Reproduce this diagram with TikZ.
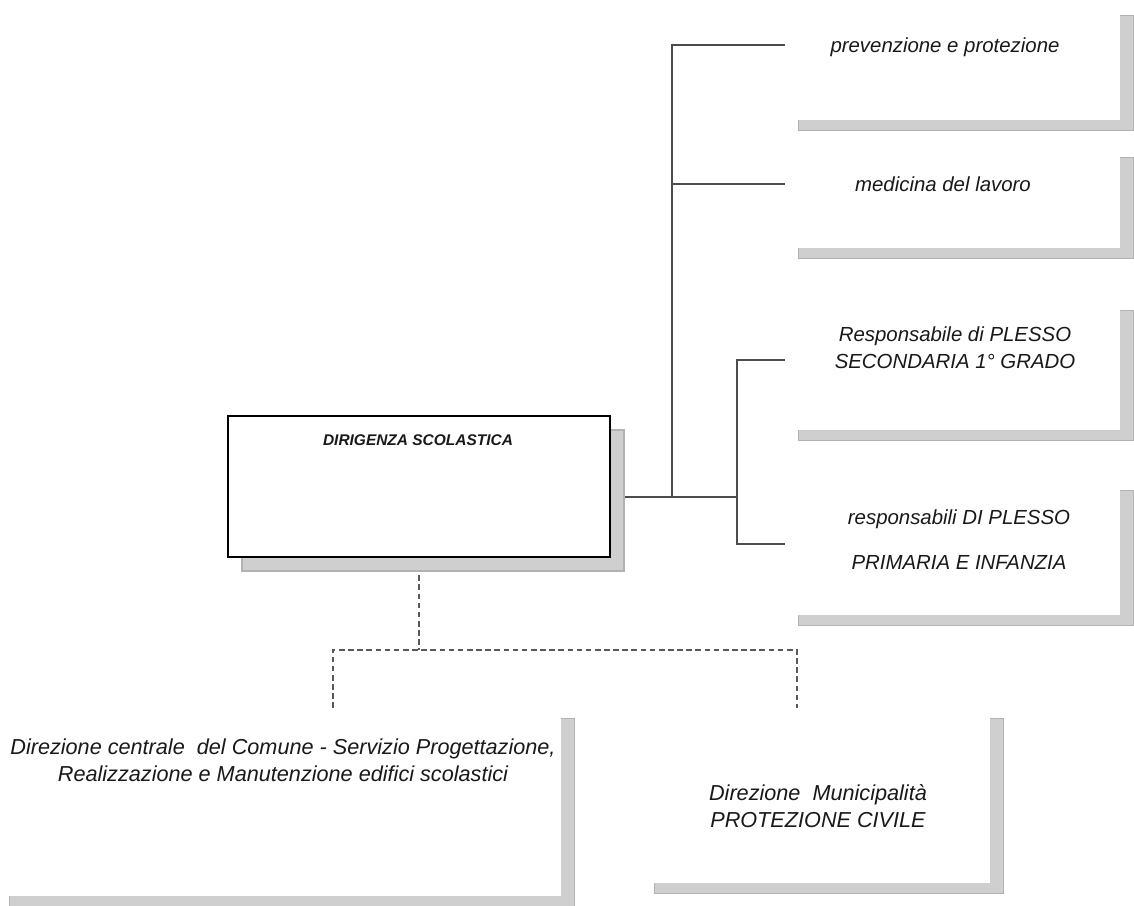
\documentclass[tikz,border=0pt]{standalone}
\usepackage{fontspec}
\setmainfont{Liberation Sans}
\usetikzlibrary{shadows, backgrounds}
\tikzstyle{unit} = [rectangle, fill=white, draw=none, inner sep=0pt, outer sep=0pt,
    drop shadow={shadow xshift=0.33cm, shadow yshift=-0.25cm, fill=gray!38, draw=gray!60, opacity=1}]
\tikzstyle{head} = [rectangle, fill=white, draw=black, line width=0.9pt, inner sep=0pt, outer sep=0pt,
    drop shadow={shadow xshift=0.35cm, shadow yshift=-0.35cm, fill=gray!38, draw=gray!60, opacity=1}]
\tikzstyle{boxtext} = [align=center, font=\fontsize{14.5}{19}\selectfont\itshape, text=black!90, inner sep=0pt]
\tikzstyle{bigtext} = [boxtext, font=\fontsize{15.4}{19.5}\selectfont\itshape]
\tikzstyle{link} = [line width=1.3pt, draw=black!70]
\tikzstyle{dlink} = [line width=1pt, draw=black!65, dash pattern=on 4pt off 2.5pt]

\begin{document}
\begin{tikzpicture}[x=0.025cm, y=-0.025cm]
                \useasboundingbox (0,0) rectangle (1134,906);
                % boxes
                \node (main) [head, minimum width=9.55cm, minimum height=3.525cm] at (419,486.5) {};
                \node (prev) [unit, minimum width=8.375cm, minimum height=2.875cm] at (952.5,62.5) {};
                \node (med) [unit, minimum width=8.375cm, minimum height=2.525cm] at (952.5,197.5) {};
                \node (sec) [unit, minimum width=8.375cm, minimum height=3.25cm] at (952.5,365) {};
                \node (prim) [unit, minimum width=8.375cm, minimum height=3.375cm] at (952.5,547.5) {};
                \node (comune) [unit, minimum width=14.125cm, minimum height=4.7cm] at (278.5,802) {};
                \node (civile) [unit, minimum width=8.725cm, minimum height=4.375cm] at (815.5,795.5) {};
                % texts
                \node (maintxt) [boxtext, font=\fontsize{11}{13}\selectfont\itshape\bfseries] at (418,440) {DIRIGENZA SCOLASTICA};
                \node (prevtxt) [boxtext] at (945,47) {prevenzione e protezione};
                \node (medtxt) [boxtext] at (943,184) {medicina del lavoro};
                \node (sectxt) [boxtext] at (955,348) {Responsabile di PLESSO\\SECONDARIA 1° GRADO};
                \node (primtxt) [boxtext] at (959,540) {responsabili DI PLESSO\\[13pt]PRIMARIA E INFANZIA};
                \node (comtxt) [bigtext] at (283,760) {Direzione centrale\ \ del Comune - Servizio Progettazione,\\Realizzazione e Manutenzione edifici scolastici};
                \node (civtxt) [bigtext] at (818,806) {Direzione\ \ Municipalità\\PROTEZIONE CIVILE};
                % connectors
                \coordinate (hub) at (672,497);
                \coordinate (fork) at (737,497);
                \coordinate (t1) at (672,45);
                \coordinate (t2) at (672,184);
                \coordinate (f1) at (737,360);
                \coordinate (f2) at (737,544);
                \coordinate (dj) at (419,650);
                \coordinate (dl) at (333,650);
                \coordinate (dr) at (797,650);
                \begin{scope}[on background layer]
                    \draw [link] (main.east |- hub) -- (fork);
                    \draw [link] (hub) -- (t1) -- (t1 -| prev.west);
                    \draw [link] (t2) -- (t2 -| med.west);
                    \draw [link] (f1 -| sec.west) -- (f1) -- (f2) -- (f2 -| prim.west);
                    \draw [dlink] (main.south) -- (dj);
                    \draw [dlink] (dl |- comune.north) -- (dl) -- (dr) -- (dr |- civile.north);
                \end{scope}
            \end{tikzpicture}
\end{document}
